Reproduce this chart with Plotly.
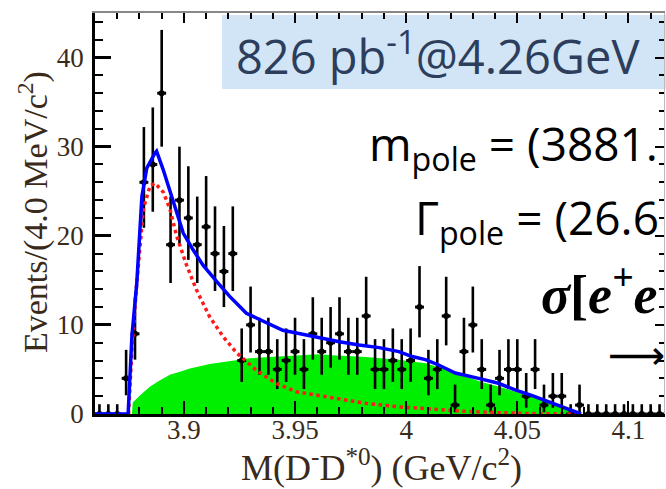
import plotly.graph_objects as go

# ---------------- data ----------------
mass = [3.862, 3.866, 3.870, 3.874, 3.878, 3.882, 3.886, 3.890, 3.894, 3.898,
        3.902, 3.906, 3.910, 3.914, 3.918, 3.922, 3.926, 3.930, 3.934, 3.938,
        3.942, 3.946, 3.950, 3.954, 3.958, 3.962, 3.966, 3.970, 3.974, 3.978,
        3.982, 3.986, 3.990, 3.994, 3.998, 4.002, 4.006, 4.010, 4.014, 4.018,
        4.022, 4.026, 4.030, 4.034, 4.038, 4.042, 4.046, 4.050, 4.054, 4.058,
        4.062, 4.066, 4.070, 4.074, 4.078, 4.082, 4.086, 4.090, 4.094, 4.098,
        4.102, 4.106, 4.110, 4.114]
events = [0, 0, 0, 4, 9, 26, 28, 36, 19, 24,
          22, 19, 21, 18, 16, 18, 6, 10, 7, 7,
          5, 6, 7, 5, 9, 7, 8, 9, 7, 7,
          11, 5, 5, 6, 5, 6, 12, 4, 5, 11,
          1, 7, 10, 5, 1, 4, 5, 5, 2, 5,
          1, 2, 2, 0, 1, 0, 0, 0, 0, 0,
          0, 0, 0, 0]
err_hi = [1.1, 1.1, 1.1, 3.2, 4.1, 6.2, 6.4, 7.1, 5.4, 6.0,
          5.8, 5.4, 5.7, 5.3, 5.1, 5.3, 3.6, 4.3, 3.8, 3.8,
          3.4, 3.6, 3.8, 3.4, 4.1, 3.8, 4.0, 4.1, 3.8, 3.8,
          4.4, 3.4, 3.4, 3.6, 3.4, 3.6, 4.6, 3.2, 3.4, 4.4,
          2.3, 3.8, 4.3, 3.4, 2.3, 3.2, 3.4, 3.4, 2.6, 3.4,
          2.3, 2.6, 2.6, 1.1, 2.3, 1.1, 1.1, 1.1, 1.1, 1.1,
          1.1, 1.1, 1.1, 1.1]
err_lo = [0, 0, 0, 1.9, 2.9, 5.1, 5.3, 6.0, 4.3, 4.9,
          4.7, 4.3, 4.6, 4.2, 4.0, 4.2, 2.4, 3.1, 2.6, 2.6,
          2.2, 2.4, 2.6, 2.2, 2.9, 2.6, 2.8, 2.9, 2.6, 2.6,
          3.3, 2.2, 2.2, 2.4, 2.2, 2.4, 3.4, 1.9, 2.2, 3.3,
          0.8, 2.6, 3.1, 2.2, 0.8, 1.9, 2.2, 2.2, 1.3, 2.2,
          0.8, 1.3, 1.3, 0, 0.8, 0, 0, 0, 0, 0,
          0, 0, 0, 0]

# total fit (blue)
fit_x = [3.860, 3.8749, 3.8766, 3.8788, 3.8811, 3.8833, 3.8870, 3.8877, 3.8907,
         3.8952, 3.8997, 3.9042, 3.9086, 3.9146, 3.9206, 3.9281, 3.9355, 3.9445,
         3.9534, 3.9609, 3.9699, 3.9788, 3.9878, 3.9967, 4.0027, 4.0087, 4.0146,
         4.0221, 4.0251, 4.0326, 4.0415, 4.0490, 4.0564, 4.0639, 4.0714, 4.0773,
         4.0787]
fit_y = [0, 0, 8.7, 14.7, 24.4, 27.6, 29.3, 29.5, 27.4,
         24.0, 20.3, 18.4, 16.7, 14.9, 13.2, 11.3, 10.4, 9.4,
         8.95, 8.55, 8.1, 7.75, 7.45, 7.0, 6.45, 6.1, 5.5,
         4.6, 4.4, 4.0, 3.45, 2.7, 2.1, 1.4, 0.7, 0.1,
         0]

# signal (red dotted)
sig_x = [3.8751, 3.8766, 3.8788, 3.8818, 3.8848, 3.8870, 3.8907, 3.8937, 3.8967,
         3.9012, 3.9057, 3.9116, 3.9176, 3.9236, 3.9326, 3.9415, 3.9505, 3.9609,
         3.9669, 3.9818, 3.9967, 4.0116, 4.0266, 4.0415, 4.0563, 4.0787]
sig_y = [0, 7.2, 14.7, 23.1, 25.6, 25.9, 24.9, 23.0, 20.0,
         16.7, 13.9, 10.9, 8.7, 6.9, 4.9, 3.45, 2.5, 2.05,
         1.75, 1.2, 0.8, 0.55, 0.3, 0.15, 0.05, 0]

# background (green fill)
bkg_x = [3.8766, 3.8770, 3.8803, 3.8848, 3.8893, 3.8937, 3.8982, 3.9027, 3.9116,
         3.9206, 3.9296, 3.9385, 3.9475, 3.9609, 3.9667, 3.9820, 3.9967, 4.0088,
         4.0191, 4.0267, 4.0339, 4.0415, 4.0491, 4.0563, 4.0639, 4.0715, 4.0787]
bkg_y = [0, 1.3, 2.1, 3.1, 3.8, 4.4, 4.75, 5.1, 5.6,
         5.95, 6.25, 6.4, 6.55, 6.7, 6.6, 6.4, 6.1, 5.7,
         4.9, 4.2, 3.6, 3.1, 2.5, 1.95, 1.4, 0.75, 0]

x_ticks = [3.9, 3.95, 4.0, 4.05, 4.1]
x_tick_text = ["3.9", "3.95", "4", "4.05", "4.1"]
y_ticks = [0, 10, 20, 30, 40]
y_tick_text = ["0", "10", "20", "30", "40"]

# ---------------- layout geometry ----------------
W, H = 666, 489
ML, MR, MT, MB = 95, 2, 13, 75
PW, PH = W - ML - MR, H - MT - MB


def px(xp):
    return (xp - ML) / PW


def py(yp):
    return (H - MB - yp) / PH


DARK = "#3a2a1a"
SERIF = "Liberation Serif"

fig = go.Figure()

fig.add_trace(go.Scatter(x=bkg_x, y=bkg_y, mode="lines", fill="tozeroy",
                         fillcolor="#00ee00", line=dict(width=0, color="#00ee00"),
                         hoverinfo="skip", showlegend=False))

fig.add_trace(go.Scatter(
    x=mass, y=events, mode="markers",
    marker=dict(color="black", size=6),
    error_y=dict(type="data", symmetric=False, array=err_hi, arrayminus=err_lo,
                 color="black", thickness=2.6, width=0),
    error_x=dict(type="constant", value=0.002, color="black", thickness=3, width=0),
    showlegend=False))

fig.add_trace(go.Scatter(x=sig_x, y=sig_y, mode="lines",
                         line=dict(color="#ff1a1a", width=3.5, dash="dot"),
                         showlegend=False))

fig.add_trace(go.Scatter(x=fit_x, y=fit_y, mode="lines",
                         line=dict(color="#0000ff", width=3.5),
                         showlegend=False))

# invisible trace to carry the mirrored (top/right) axes
fig.add_trace(go.Scatter(x=[3.9], y=[0], xaxis="x2", yaxis="y2", mode="markers",
                         marker=dict(opacity=0), hoverinfo="skip", showlegend=False))

fig.update_layout(
    width=W, height=H,
    margin=dict(l=ML, r=MR, t=MT, b=MB),
    paper_bgcolor="white", plot_bgcolor="white",
    xaxis=dict(range=[3.86, 4.116], tickmode="array", tickvals=x_ticks,
               ticktext=x_tick_text, ticks="inside", ticklen=13, tickwidth=2,
               tickcolor="black", showline=True, linecolor="black", linewidth=2.5,
               showgrid=False, zeroline=False,
               tickfont=dict(family=SERIF, size=27, color=DARK),
               ticklabelstandoff=-10,
               minor=dict(tickmode="linear", tick0=3.9, dtick=0.01, ticks="inside",
                          ticklen=7, tickwidth=2, tickcolor="black", showgrid=False)),
    yaxis=dict(range=[0, 45], tickmode="array", tickvals=y_ticks,
               ticktext=y_tick_text, ticks="inside", ticklen=16, tickwidth=2.5,
               tickcolor="black", showline=True, linecolor="black", linewidth=2.5,
               showgrid=False, zeroline=False,
               tickfont=dict(family=SERIF, size=27, color=DARK),
               ticklabelstandoff=3,
               minor=dict(tickmode="linear", tick0=0, dtick=2, ticks="inside",
                          ticklen=8, tickwidth=2, tickcolor="black", showgrid=False)),
    xaxis2=dict(overlaying="x", side="top", matches="x", showticklabels=False,
                tickmode="linear", tick0=3.9, dtick=0.05, ticks="inside", ticklen=10,
                tickwidth=2, tickcolor="black", showline=True, linecolor="#888888",
                linewidth=1.5, showgrid=False, zeroline=False,
                minor=dict(tickmode="linear", tick0=3.9, dtick=0.01, ticks="inside",
                           ticklen=6, tickwidth=2, tickcolor="black")),
    yaxis2=dict(overlaying="y", side="right", matches="y", showticklabels=False,
                tickmode="linear", tick0=0, dtick=10, ticks="inside", ticklen=9,
                tickwidth=2, tickcolor="black", showline=True, linecolor="#bbbbbb",
                linewidth=1, showgrid=False, zeroline=False,
                minor=dict(tickmode="linear", tick0=0, dtick=2, ticks="inside",
                           ticklen=5, tickwidth=2, tickcolor="black")),
)

# light blue label box (under the axes)
fig.add_shape(type="rect", xref="paper", yref="paper", layer="below",
              x0=px(222), x1=px(672), y0=py(89), y1=py(15),
              fillcolor="#d2e5f6", line=dict(width=0))

ann = []
ann.append(dict(text="826 pb<sup>-1</sup>@4.26GeV", x=px(234), y=py(53),
                xanchor="left", yanchor="middle",
                font=dict(family="Open Sans", size=47, color="#2c3e5c")))
ann.append(dict(text="m<sub>pole</sub> = (3881.", x=px(367), y=py(146),
                xanchor="left", yanchor="middle",
                font=dict(family="Open Sans", size=46, color="black")))
ann.append(dict(text="Γ<sub>pole</sub> = (26.6", x=px(413), y=py(220),
                xanchor="left", yanchor="middle",
                font=dict(family="Open Sans", size=46, color="black")))
ann.append(dict(text="<b><i>σ</i></b><b>[</b><b><i>e<sup>+</sup>e</i></b>", x=px(539), y=py(290),
                xanchor="left", yanchor="middle",
                font=dict(family=SERIF, size=54, color="black")))
ann.append(dict(text="⟶", x=px(606), y=py(355),
                xanchor="left", yanchor="middle",
                font=dict(family="DejaVu Sans", size=40, color="black")))
# axis titles
ann.append(dict(text="M(D<sup>-</sup>D<sup>*0</sup>) (GeV/c<sup>2</sup>)",
                x=px(381), y=py(466), xanchor="center", yanchor="middle",
                font=dict(family=SERIF, size=36, color=DARK)))
ann.append(dict(text="Events/(4.0 MeV/c<sup>2</sup>)", x=px(34), y=py(212),
                xanchor="center", yanchor="middle", textangle=-90,
                font=dict(family=SERIF, size=34, color=DARK)))

for a in ann:
    a.update(xref="paper", yref="paper", showarrow=False)
fig.update_layout(annotations=ann)

fig.write_html("out.html")
